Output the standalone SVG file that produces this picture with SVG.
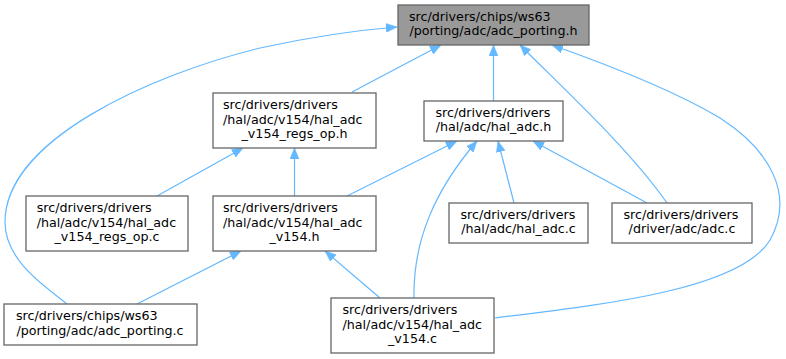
<svg xmlns="http://www.w3.org/2000/svg" width="786" height="359" viewBox="0 0 786 359">
<style>
.box{fill:#ffffff;stroke:#666666;stroke-width:1.3}
.root{fill:#999999}
text{font-family:"DejaVu Sans",sans-serif;font-size:12.7px;fill:#000000}
.m{text-anchor:middle}
.e{fill:none;stroke:#63b8ff;stroke-width:1.2;marker-end:url(#ah)}
</style>
<defs>
<marker id="ah" markerUnits="userSpaceOnUse" markerWidth="11" markerHeight="9" viewBox="0 0 11 9" refX="11" refY="4.5" orient="auto">
<path d="M0,0 L11,4.5 L0,9 z" fill="#63b8ff" stroke="#63b8ff" stroke-width="0.5"/>
</marker>
</defs>
<g id="edges">
<path class="e" d="M67,304 C48,288 5,262 5,222 C5,140 150,75 260,48 C310,37 360,30 397,27"/>
<path class="e" d="M352,92 L441,45"/>
<path class="e" d="M493.5,101 L493.5,45"/>
<path class="e" d="M667,203 C630,150 570,95 520,45"/>
<path class="e" d="M495,318 C600,305 740,290 770,240 C795,195 770,150 720,118 C670,88 600,62 552,45"/>
<path class="e" d="M157,196 L243,148"/>
<path class="e" d="M294.5,196 L294.5,148"/>
<path class="e" d="M347,196 L457,141"/>
<path class="e" d="M414,298 C413,240 435,190 477,141"/>
<path class="e" d="M514,203 L498,141"/>
<path class="e" d="M647,203 L533,141"/>
<path class="e" d="M137,304 L241,251"/>
<path class="e" d="M380,298 L325,251"/>
</g>
<g id="n0">
<rect class="box root" x="398" y="5" width="191" height="40"/>
<text x="409" y="20.75">src/drivers/chips/ws63</text>
<text class="m" x="493.5" y="35.25">/porting/adc/adc_porting.h</text>
</g>
<g id="n1">
<rect class="box" x="213" y="93" width="163" height="55"/>
<text x="223" y="109">src/drivers/drivers</text>
<text x="223" y="123.5">/hal/adc/v154/hal_adc</text>
<text class="m" x="294.5" y="138">_v154_regs_op.h</text>
</g>
<g id="n2">
<rect class="box" x="424" y="101" width="139" height="40"/>
<text x="435.5" y="116.75">src/drivers/drivers</text>
<text class="m" x="493.5" y="131.25">/hal/adc/hal_adc.h</text>
</g>
<g id="n3">
<rect class="box" x="26" y="196" width="162" height="55"/>
<text x="36.7" y="212">src/drivers/drivers</text>
<text x="36.7" y="226.5">/hal/adc/v154/hal_adc</text>
<text class="m" x="107" y="241">_v154_regs_op.c</text>
</g>
<g id="n4">
<rect class="box" x="213" y="196" width="163" height="55"/>
<text x="223" y="212">src/drivers/drivers</text>
<text x="223" y="226.5">/hal/adc/v154/hal_adc</text>
<text class="m" x="294.5" y="241">_v154.h</text>
</g>
<g id="n5">
<rect class="box" x="449" y="203" width="139" height="40"/>
<text x="460.5" y="218.75">src/drivers/drivers</text>
<text class="m" x="518.5" y="233.25">/hal/adc/hal_adc.c</text>
</g>
<g id="n6">
<rect class="box" x="612" y="203" width="140" height="40"/>
<text x="623.5" y="218.75">src/drivers/drivers</text>
<text class="m" x="682" y="233.25">/driver/adc/adc.c</text>
</g>
<g id="n7">
<rect class="box" x="4" y="304" width="193" height="41"/>
<text x="16" y="320.25">src/drivers/chips/ws63</text>
<text class="m" x="100" y="334.75">/porting/adc/adc_porting.c</text>
</g>
<g id="n8">
<rect class="box" x="331" y="298" width="163" height="55"/>
<text x="342.5" y="314">src/drivers/drivers</text>
<text x="342.5" y="328.5">/hal/adc/v154/hal_adc</text>
<text class="m" x="412.5" y="343">_v154.c</text>
</g>
</svg>
